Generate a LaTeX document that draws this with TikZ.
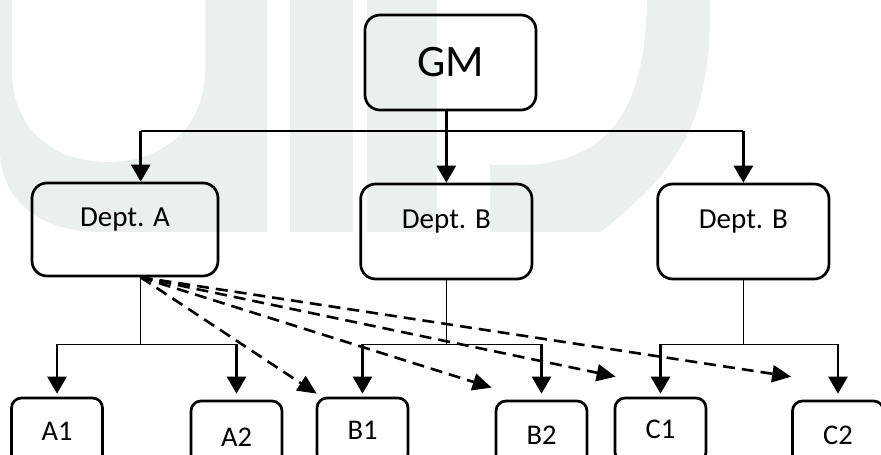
\documentclass[tikz,border=0pt]{standalone}
\usepackage{fontspec}
\setmainfont{Carlito}
\usetikzlibrary{arrows.meta}
\definecolor{wmcol}{RGB}{234,240,237}
\begin{document}
\begin{tikzpicture}[x=1pt,y=-1pt,
  wm/.style={fill=wmcol},
  bigbox/.style={draw, line width=2.7pt, rounded corners=15pt, inner sep=0pt},
  deptbox/.style={bigbox, font=\fontsize{29}{34}\selectfont, text height=20pt, text depth=26.3pt},
  smallbox/.style={draw, line width=2.7pt, rounded corners=10pt, inner sep=0pt, minimum width=91pt,
    font=\fontsize{28.5}{34}\selectfont, text height=17.7pt, text depth=0pt},
  thinline/.style={line width=1.5pt},
  arr/.style={line width=2.8pt, -{Triangle[width=19pt,length=17pt]}},
  dasharr/.style={line width=2.6pt, dash pattern=on 12pt off 7pt, -{Triangle[width=17pt,length=19pt]}}
]
\useasboundingbox (0,0) rectangle (881,455);
\clip (0,0) rectangle (881,455);
\fill[white] (0,0) rectangle (881,455);
% faint watermark
\fill[wm] (0,150) -- (0,0) -- (710,0) .. controls (712,120) and (680,170) .. (600,232) -- (100,232) .. controls (40,232) and (0,200) .. (0,150) -- cycle;
\fill[white] (12,0) -- (205,0) -- (205,70) .. controls (205,130) and (160,162) .. (108,162) .. controls (55,162) and (12,130) .. (12,70) -- cycle;
\fill[white] (267,0) rectangle (290,232);
\fill[white] (353,0) rectangle (367,232);
\fill[white] (437,0) -- (647,0) .. controls (645,110) and (610,158) .. (530,165) -- (490,165) -- (490,232) -- (437,232) -- cycle;

% nodes
\node[bigbox, minimum width=171pt, minimum height=95pt, font=\fontsize{45}{52}\selectfont] (gm) at (450.5,62.5) {GM};
\node[deptbox, minimum width=186pt, minimum height=93pt] (deptA) at (125,229.5) {Dept. A};
\node[deptbox, minimum width=171.3pt, minimum height=95pt] (deptB) at (446.35,231.5) {Dept. B};
\node[deptbox, minimum width=171.3pt, minimum height=95pt] (deptC) at (743.35,231.5) {Dept. B};

\node[smallbox, minimum height=68pt] (A1) at (57,432) {A1};
\node[smallbox, minimum height=74pt] (A2) at (236.5,438) {A2};
\node[smallbox, minimum height=66pt] (B1) at (362.5,431) {B1};
\node[smallbox, minimum height=70pt] (B2) at (541.5,436) {B2};
\node[smallbox, minimum height=64pt] (C1) at (660.5,430) {C1};
\node[smallbox, minimum height=70pt] (C2) at (838,436) {C2};

% top level connectors
\coordinate (h1) at (140.7,131);
\coordinate (h3) at (743.35,131);
\draw[thinline] (h1) -- (h3);
\draw[arr] ([xshift=-4.15pt]gm.south) -- (deptB.north);
\draw[arr] (h1) -- (h1 |- deptA.north);
\draw[arr] (h3) -- (deptC.north);

% lower connectors
\draw[thinline] (deptA.south -| h1) -- ++(0,67) coordinate (ja);
\draw[thinline] (A1.north |- ja) -- (A2.north |- ja);
\draw[arr] (A1.north |- ja) -- ([yshift=3pt]A1.north);
\draw[arr] (A2.north |- ja) -- ([yshift=6pt]A2.north);

\draw[thinline] (deptB.south) -- (deptB.south |- ja) coordinate (jb);
\draw[thinline] (B1.north |- jb) -- (B2.north |- jb);
\draw[arr] (B1.north |- jb) -- ([yshift=3pt]B1.north);
\draw[arr] (B2.north |- jb) -- ([yshift=6pt]B2.north);

\draw[thinline] (deptC.south) -- (deptC.south |- ja) coordinate (jc);
\draw[thinline] (C1.north |- jc) -- (C2.north |- jc);
\draw[arr] (C1.north |- jc) -- ([yshift=3pt]C1.north);
\draw[arr] (C2.north |- jc) -- ([yshift=6pt]C2.north);

% dashed arrows
\coordinate (ds) at (deptA.south -| h1);
\draw[dasharr] (ds) -- ([shift={(1pt,3pt)}]B1.north west);
\draw[dasharr] (ds) -- ([shift={(-3pt,12pt)}]B2.north west);
\draw[dasharr] (ds) -- ([shift={(2pt,20pt)}]C1.north west);
\draw[dasharr] (ds) -- ([shift={(0pt,23pt)}]C2.north west);
\end{tikzpicture}
\end{document}
